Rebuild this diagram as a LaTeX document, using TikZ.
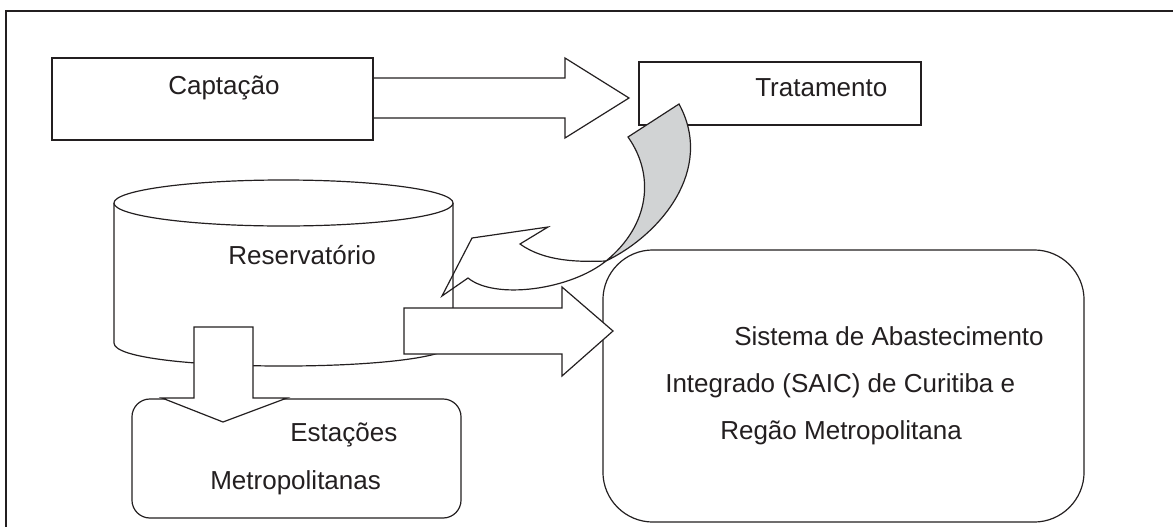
\documentclass[tikz,border=0pt]{standalone}
\usepackage{fontspec}
\setmainfont{Liberation Sans}
\definecolor{traco}{RGB}{35,31,32}
\definecolor{cinza}{RGB}{209,211,212}

\begin{document}
\begin{tikzpicture}[x=0.025cm,y=-0.025cm,
		caixa/.style={draw=traco,line width=0.85pt,fill=white,inner sep=0pt},
		seta/.style={draw=traco,line width=0.85pt,fill=white,line join=miter},
		rotulo/.style={anchor=base west,inner sep=0pt,text=traco,font=\fontsize{18.5}{22}\selectfont}]
	\useasboundingbox (0,0) rectangle (1173,527);
	\draw[traco,line width=1.4pt] (6,527) -- (6,11) -- (1173,11);
	\draw[seta] (373,78) -- (565,78) -- (565,58) -- (629,98) -- (565,138) -- (565,118) -- (373,118);
	\node[caixa,minimum width=8.025cm,minimum height=2.05cm] (cap) at (212.5,99) {};
	\node[caixa,minimum width=7.05cm,minimum height=1.575cm] (trat) at (780,93.5) {};
	\draw[caixa] (114,203) -- (114,343) .. controls (114,373.7) and (453,373.7) .. (453,343) -- (453,203);
	\draw[caixa] (283.5,203) ellipse [x radius=4.2375cm,y radius=0.575cm];
	\coordinate (res) at (283.5,273);
	\node[caixa,rounded corners=0.45cm,minimum width=8.225cm,minimum height=2.975cm] (est) at (296.5,458.5) {};
	\node[caixa,rounded corners=1.25cm,minimum width=12.025cm,minimum height=6.8cm] (saic) at (843.5,386) {};
	\draw[seta] (194,327) -- (253,327) -- (253,398) -- (287,398) -- (223,422) -- (162,398) -- (194,398) -- cycle;
	\draw[seta] (404,308) -- (562,308) -- (562,287) -- (613,331) -- (562,376) -- (562,354) -- (404,354) -- cycle;
	\draw[seta,fill=cinza] (628,137) -- (679,104) .. controls (715,170) and (660,235) .. (606,261)
		.. controls (650,225) and (655,175) .. (628,137) -- cycle;
	\draw[traco,line width=0.85pt,line join=miter] (606,261) .. controls (580,262) and (545,262) .. (520,244)
		-- (548,227) -- (472,238) -- (442,296) -- (468,278) .. controls (495,300) and (570,290) .. (606,261);
	\node[rotulo] (cap-t) at (168,94) {Captação};
	\node[rotulo] (trat-t) at (755,96) {Tratamento};
	\node[rotulo] (res-t) at (228,264) {Reservatório};
	\node[rotulo] (est-t1) at (290,441) {Estações};
	\node[rotulo] (est-t2) at (210,489) {Metropolitanas};
	\node[rotulo] (saic-t1) at (734,345) {Sistema de Abastecimento};
	\node[rotulo] (saic-t2) at (665,392) {Integrado (SAIC) de Curitiba e};
	\node[rotulo] (saic-t3) at (720,439) {Regão Metropolitana};
\end{tikzpicture}
\end{document}
